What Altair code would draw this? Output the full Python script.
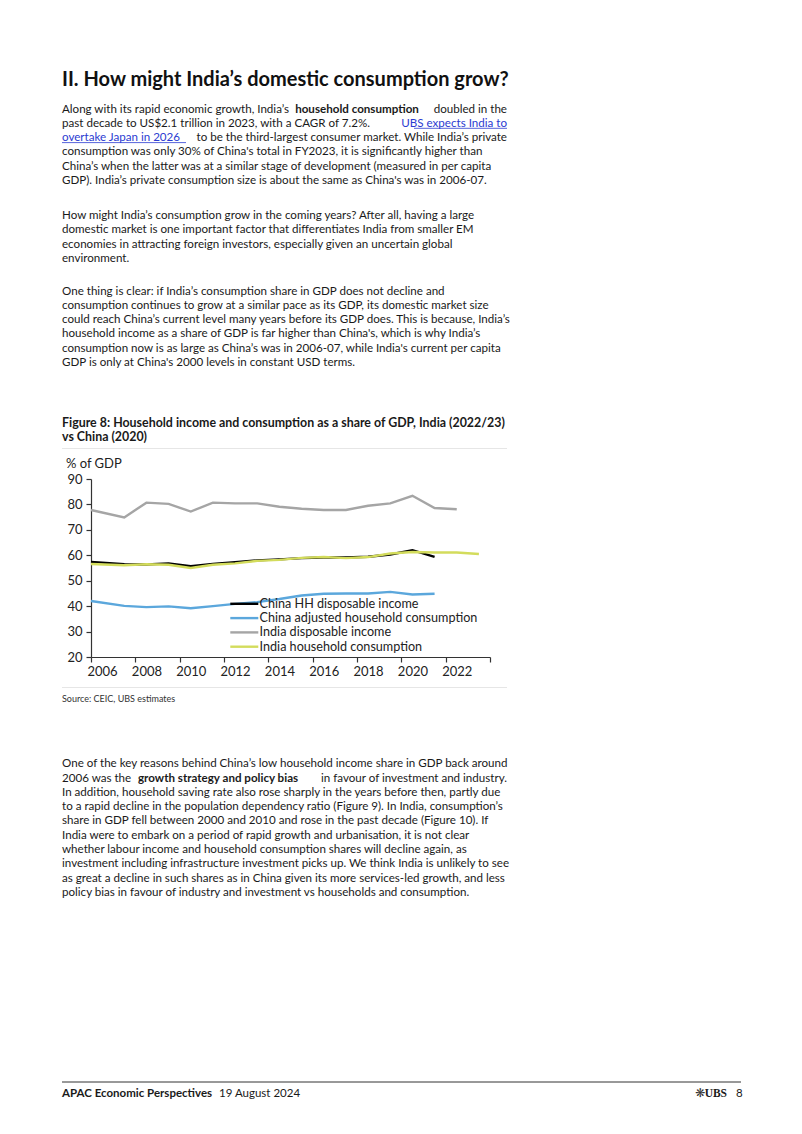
import altair as alt
import pandas as pd

# ---------------- chart data ----------------
SERIES = [
    "China HH disposable income",
    "China adjusted household consumption",
    "India disposable income",
    "India household consumption",
]
COLORS = ["#000000", "#5ba7dc", "#a5a5a5", "#d3dc5c"]

CHINA_YEARS = [2005.5, 2007, 2008, 2009, 2010, 2011, 2012, 2013, 2014, 2015,
               2016, 2017, 2018, 2019, 2020, 2021]
CHINA_HH_INCOME = [57.4, 56.5, 56.4, 56.8, 55.7, 56.6, 57.3, 58.0, 58.4, 58.9,
                   59.1, 59.1, 59.4, 60.3, 62.0, 59.4]
CHINA_ADJ_CONS = [42.0, 40.1, 39.6, 39.9, 39.2, 40.0, 40.9, 41.6, 42.8, 44.2,
                  44.9, 45.0, 45.0, 45.6, 44.6, 44.9]

INDIA_INC_YEARS = [2005.5, 2007, 2008, 2009, 2010, 2011, 2012, 2013, 2014, 2015,
                   2016, 2017, 2018, 2019, 2020, 2021, 2022]
INDIA_DISP_INCOME = [77.8, 74.9, 80.7, 80.2, 77.2, 80.7, 80.4, 80.4, 79.1, 78.3,
                     77.8, 77.8, 79.5, 80.4, 83.4, 78.6, 78.1]

INDIA_CONS_YEARS = [2005.5, 2007, 2008, 2009, 2010, 2011, 2012, 2013, 2014, 2015,
                    2016, 2017, 2018, 2019, 2020, 2021, 2022, 2023]
INDIA_HH_CONS = [56.6, 56.1, 56.5, 56.3, 55.0, 56.3, 56.8, 57.8, 58.2, 59.0,
                 59.3, 58.9, 59.3, 60.7, 61.3, 61.1, 61.1, 60.5]

X_DOMAIN = [2005.5, 2023.5]
X_TICKS = [2005.5, 2007.5, 2009.5, 2011.5, 2013.5, 2015.5, 2017.5, 2019.5,
           2021.5, 2023.5]
Y_DOMAIN = [20, 90]
Y_TICKS = [20, 30, 40, 50, 60, 70, 80, 90]

# ---------------- page text ----------------
HEADING = "II. How might India’s domestic consumption grow?"
P1_L1 = ["Along with its rapid economic growth, India’s", "household consumption", "doubled in the"]
P1_L2 = ["past decade to US$2.1 trillion in 2023, with a CAGR of 7.2%.", "UBS expects India to"]
P1_L3 = ["overtake Japan in 2026", "to be the third-largest consumer market. While India’s private"]
P1_REST = [
    "consumption was only 30% of China's total in FY2023, it is significantly higher than",
    "China’s when the latter was at a similar stage of development (measured in per capita",
    "GDP). India’s private consumption size is about the same as China's was in 2006-07.",
]
P2 = [
    "How might India’s consumption grow in the coming years? After all, having a large",
    "domestic market is one important factor that differentiates India from smaller EM",
    "economies in attracting foreign investors, especially given an uncertain global",
    "environment.",
]
P3 = [
    "One thing is clear: if India’s consumption share in GDP does not decline and",
    "consumption continues to grow at a similar pace as its GDP, its domestic market size",
    "could reach China’s current level many years before its GDP does. This is because, India’s",
    "household income as a share of GDP is far higher than China's, which is why India’s",
    "consumption now is as large as China’s was in 2006-07, while India's current per capita",
    "GDP is only at China's 2000 levels in constant USD terms.",
]
FIG_TITLE = [
    "Figure 8: Household income and consumption as a share of GDP, India (2022/23)",
    "vs China (2020)",
]
Y_UNIT = "% of GDP"
SOURCE = "Source: CEIC, UBS estimates"
P4_L1 = ["One of the key reasons behind China’s low household income share in GDP back around"]
P4_L2 = ["2006 was the", "growth strategy and policy bias", "in favour of investment and industry."]
P4_REST = [
    "In addition, household saving rate also rose sharply in the years before then, partly due",
    "to a rapid decline in the population dependency ratio (Figure 9). In India, consumption’s",
    "share in GDP fell between 2000 and 2010 and rose in the past decade (Figure 10). If",
    "India were to embark on a period of rapid growth and urbanisation, it is not clear",
    "whether labour income and household consumption shares will decline again, as",
    "investment including infrastructure investment picks up. We think India is unlikely to see",
    "as great a decline in such shares as in China given its more services-led growth, and less",
    "policy bias in favour of industry and investment vs households and consumption.",
]
FOOTER_LEFT_BOLD = "APAC Economic Perspectives"
FOOTER_DATE = "19 August 2024"
FOOTER_SYMBOL = "❋"
FOOTER_LOGO = "UBS"
FOOTER_PAGE = "8"

# ---------------- styling ----------------
BODY_FONT = "Lato"
CHART_FONT = "Lato"
BODY_SIZE = 11.6
LH = 14.3
TEXT_COLOR = "#1a1a1a"
LINK_COLOR = "#2b3bd1"

# plot-area origin on the page (page pixels, window margin 8)
OX, OY = 91, 479
PLOT_W, PLOT_H = 399, 178
PAGE_W, PAGE_H = 786, 1118

rows = []
for name, xs, ys in [
    (SERIES[0], CHINA_YEARS, CHINA_HH_INCOME),
    (SERIES[1], CHINA_YEARS, CHINA_ADJ_CONS),
    (SERIES[2], INDIA_INC_YEARS, INDIA_DISP_INCOME),
    (SERIES[3], INDIA_CONS_YEARS, INDIA_HH_CONS),
]:
    for x, y in zip(xs, ys):
        rows.append({"series": name, "year": x, "value": y})
df = pd.DataFrame(rows)

ONE = pd.DataFrame({"k": [0]})


def px(x):
    return x - OX


def py(y):
    return y - OY


def text(lines, x, y, size=BODY_SIZE, bold=False, color=TEXT_COLOR, align="left",
         font=BODY_FONT, lh=LH):
    return alt.Chart(ONE).mark_text(
        text=lines, align=align, baseline="alphabetic", font=font, fontSize=size,
        fontWeight="bold" if bold else "normal", color=color, lineHeight=lh,
    ).encode(x=alt.value(px(x)), y=alt.value(py(y)))


def hline(x1, x2, y, color, width=1.0):
    return alt.Chart(ONE).mark_rule(color=color, strokeWidth=width).encode(
        x=alt.value(px(x1)), x2=alt.value(px(x2)), y=alt.value(py(y))
    )


lines = alt.Chart(df).mark_line(strokeWidth=2.4).encode(
    x=alt.X(
        "year:Q",
        scale=alt.Scale(domain=X_DOMAIN, nice=False, zero=False),
        axis=alt.Axis(
            values=X_TICKS, title=None, grid=False, tickSize=5, labelOffset=11.08,
            labelExpr="datum.value > 2023 ? '' : toString(datum.value + 0.5)",
            labelFlush=False, labelOverlap=False, labelPadding=3,
            labelFont=CHART_FONT, labelFontSize=13, labelColor="#222222",
            domainColor="#333333", tickColor="#333333", domainWidth=1.2, tickWidth=1.2,
        ),
    ),
    y=alt.Y(
        "value:Q",
        scale=alt.Scale(domain=Y_DOMAIN, nice=False, zero=False),
        axis=alt.Axis(
            values=Y_TICKS, title=None, grid=False, tickSize=5, labelPadding=4,
            labelFont=CHART_FONT, labelFontSize=13, labelColor="#222222",
            domainColor="#333333", tickColor="#333333", domainWidth=1.2, tickWidth=1.2,
        ),
    ),
    color=alt.Color(
        "series:N",
        scale=alt.Scale(domain=SERIES, range=COLORS),
        legend=alt.Legend(
            title=None, orient="none", legendX=137, legendY=118.5,
            symbolType="M-1,0H6", symbolSize=64, symbolStrokeWidth=2.4,
            labelOffset=19, rowPadding=1.3, padding=0, offset=0,
            labelFont=CHART_FONT, labelFontSize=12.6, labelColor="#222222", labelLimit=400,
        ),
    ),
)

layers = [
    text([HEADING], 62, 86, size=20, bold=True, color="#111111"),
    # paragraph 1
    text([P1_L1[0]], 62, 112.5),
    text([P1_L1[1]], 357, 112.5, bold=True, align="center"),
    text([P1_L1[2]], 507, 112.5, align="right"),
    text([P1_L2[0]], 62, 126.8),
    text([P1_L2[1]], 507, 126.8, align="right", color=LINK_COLOR),
    hline(414, 507, 128.3, LINK_COLOR, 0.8),
    text([P1_L3[0]], 62, 141.1, color=LINK_COLOR),
    hline(62, 186, 142.6, LINK_COLOR, 0.8),
    text([P1_L3[1]], 507, 141.1, align="right"),
    text(P1_REST, 62, 155.4),
    text(P2, 62, 219),
    text(P3, 62, 294.5),
    # figure
    text(FIG_TITLE, 62, 427, size=12.4, bold=True, lh=14),
    hline(62, 507, 448.5, "#e6e6e6", 1),
    text([Y_UNIT], 66, 468, size=13, font=CHART_FONT, color="#222222"),
    lines,
    hline(62, 507, 687.5, "#e6e6e6", 1),
    text([SOURCE], 62, 702, size=9, color="#333333"),
    # paragraph 4
    text(P4_L1, 62, 767.3),
    text([P4_L2[0]], 62, 781.6),
    text([P4_L2[1]], 138, 781.6, bold=True),
    text([P4_L2[2]], 507, 781.6, align="right"),
    text(P4_REST, 62, 795.9),
    # footer
    hline(62, 741, 1082, "#333333", 1),
    text([FOOTER_LEFT_BOLD], 62, 1097, size=11.5, bold=True),
    text([FOOTER_DATE], 219, 1097, size=11.5),
    text([FOOTER_SYMBOL], 705, 1097, size=12, align="right", font="DejaVu Sans",
         color="#333333"),
    text([FOOTER_LOGO], 727, 1097, size=11.5, bold=True, align="right",
         font="Liberation Serif"),
    text([FOOTER_PAGE], 736, 1097, size=11.5),
]

chart = alt.layer(*layers).properties(
    width=PLOT_W,
    height=PLOT_H,
    padding={"left": OX - 8, "top": OY - 8,
             "right": PAGE_W - (OX - 8) - PLOT_W,
             "bottom": PAGE_H - (OY - 8) - PLOT_H},
    autosize=alt.AutoSizeParams(type="none"),
).configure_view(stroke=None)

chart.save("out.html", embed_options={"renderer": "svg", "actions": False})
